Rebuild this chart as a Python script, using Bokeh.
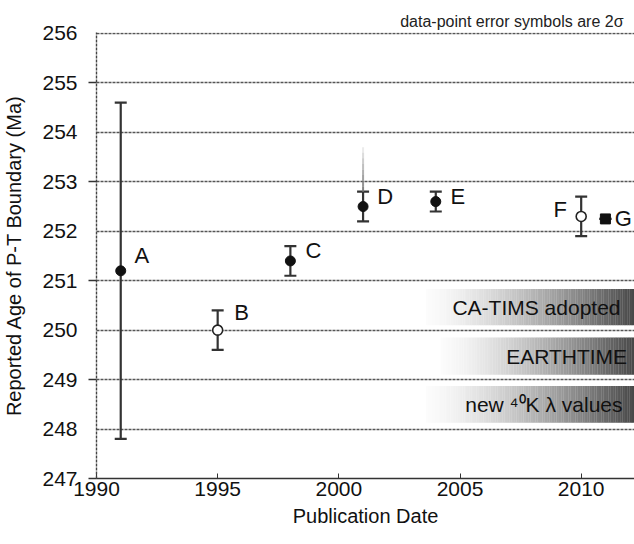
import numpy as np
from bokeh.plotting import figure
from bokeh.models import (Range1d, FixedTicker, ColumnDataSource, Whisker, Title, TeeHead)
from bokeh.embed import file_html
from bokeh.resources import INLINE

# --- data ---
labels = ["A", "B", "C", "D", "E", "F", "G"]
years = [1991, 1995, 1998, 2001, 2004, 2010, 2011]
ages = [251.2, 250.0, 251.4, 252.5, 252.6, 252.3, 252.25]
err_lo = [247.8, 249.6, 251.1, 252.2, 252.4, 251.9, 252.25]
err_hi = [254.6, 250.4, 251.7, 252.8, 252.8, 252.7, 252.25]
filled = [True, False, True, True, True, False, True]
# faded upper extension of D
d_ext = [252.8, 253.7]

band_texts = ["CA-TIMS adopted", "EARTHTIME", "new \u2074\u2070K \u03bb values"]
band_bottom = [250.1, 249.1, 248.13]
band_top = [250.83, 249.85, 248.87]
band_start = [2003.6, 2004.2, 2003.6]

x_ticks = [1990, 1995, 2000, 2005, 2010]
y_ticks = list(range(247, 257))

FONT = "Liberation Sans"
X0, X1 = 1990, 2012.2

p = figure(width=634, height=544, output_backend="svg", toolbar_location=None,
           x_range=Range1d(X0, X1), y_range=Range1d(247, 256.02),
           min_border_left=94, min_border_right=0, min_border_top=32, min_border_bottom=66)
p.outline_line_color = None
p.background_fill_color = "white"
p.title = Title(text="data-point error symbols are 2\u03c3", align="right",
                text_font=FONT, text_font_size="16px", text_font_style="normal",
                text_color="#222222", standoff=6, offset=11)

# grid
p.xgrid.grid_line_color = None
p.ygrid.ticker = FixedTicker(ticks=y_ticks)
p.ygrid.grid_line_color = "#555555"
p.ygrid.grid_line_dash = "3 1"
p.ygrid.grid_line_width = 1.4

# axes
p.xaxis.ticker = FixedTicker(ticks=x_ticks)
p.xaxis.axis_line_color = "#333333"
p.xaxis.axis_line_width = 1.5
p.xaxis.major_tick_in = 5
p.xaxis.major_tick_out = 0
p.xaxis.major_tick_line_color = "#333333"
p.xaxis.major_label_text_font = FONT
p.xaxis.major_label_text_font_size = "21px"
p.xaxis.major_label_text_color = "#111111"
p.xaxis.major_label_standoff = 3
p.xaxis.axis_label = "Publication Date"
p.xaxis.axis_label_text_font = FONT
p.xaxis.axis_label_text_font_size = "20px"
p.xaxis.axis_label_text_font_style = "normal"
p.xaxis.axis_label_text_color = "#111111"
p.xaxis.axis_label_standoff = 6

p.yaxis.ticker = FixedTicker(ticks=y_ticks, minor_ticks=[247, 249, 251, 253, 255])
p.yaxis.axis_line_color = "#444444"
p.yaxis.axis_line_dash = "3 1"
p.yaxis.axis_line_width = 1.4
p.yaxis.major_tick_in = 0
p.yaxis.major_tick_out = 0
p.yaxis.minor_tick_in = 0
p.yaxis.minor_tick_out = 8
p.yaxis.minor_tick_line_color = "#333333"
p.yaxis.minor_tick_line_width = 1.4
p.yaxis.major_label_text_font = FONT
p.yaxis.major_label_text_font_size = "21px"
p.yaxis.major_label_text_color = "#111111"
p.yaxis.major_label_standoff = 11
p.yaxis.axis_label = "Reported Age of P-T Boundary (Ma)"
p.yaxis.axis_label_text_font = FONT
p.yaxis.axis_label_text_font_size = "20px"
p.yaxis.axis_label_text_font_style = "normal"
p.yaxis.axis_label_text_color = "#111111"
p.yaxis.axis_label_standoff = 14

# gradient bands
n = 120
for b0, b1, xs in zip(band_bottom, band_top, band_start):
    edges = np.linspace(xs, X1, n + 1)
    t = np.linspace(0, 1, n)
    shade = (252 - 180 * t ** 1.4).astype(int)
    cols = ["#%02x%02x%02x" % (s, s, s) for s in shade]
    p.quad(left=edges[:-1], right=edges[1:] + 0.01, bottom=b0, top=b1,
           fill_color=cols, line_color=None)

mid = [(a + b) / 2 for a, b in zip(band_bottom, band_top)]
p.text(x=[X1, 2009.4, X1], y=mid, text=band_texts, x_offset=[-14, 0, -12],
       text_align=["right", "center", "right"], text_baseline="middle",
       text_font={"value": FONT}, text_font_size="21px", text_color="#111111")

# faded extension of D
segs = np.linspace(d_ext[0], d_ext[1], 9)
p.segment(x0=[years[3]] * 8, y0=segs[:-1], x1=[years[3]] * 8, y1=segs[1:],
          line_color="#777777", line_width=2, line_alpha=list(np.linspace(0.9, 0.15, 8)))

# error bars
src = ColumnDataSource(dict(x=years, y=ages, lo=err_lo, hi=err_hi, label=labels))
p.add_layout(Whisker(source=src, base="x", lower="lo", upper="hi",
                     line_color="#333333", line_width=2.2,
                     upper_head=TeeHead(size=12, line_color="#333333", line_width=2.2),
                     lower_head=TeeHead(size=12, line_color="#333333", line_width=2.2)))

# markers
fx = [x for x, f, l in zip(years, filled, labels) if f and l != "G"]
fy = [y for y, f, l in zip(ages, filled, labels) if f and l != "G"]
ox = [x for x, f in zip(years, filled) if not f]
oy = [y for y, f in zip(ages, filled) if not f]
p.scatter(fx, fy, size=10, marker="circle", fill_color="#111111", line_color="#111111")
p.scatter(ox, oy, size=10, marker="circle", fill_color="white", line_color="#222222", line_width=1.6)
p.scatter([years[6]], [ages[6]], size=10, marker="square", fill_color="#111111", line_color="#111111")

# point labels
xo = [21, 24, 23, 22, 22, -21, 18]
yo = [-15, -18, -10, -10, -5, -7, 0]
p.text(x=years, y=ages, text=labels, x_offset=xo, y_offset=yo,
       text_align="center", text_baseline="middle",
       text_font={"value": FONT}, text_font_size="22px", text_color="#111111")

open("out.html", "w").write(file_html(p, INLINE))
